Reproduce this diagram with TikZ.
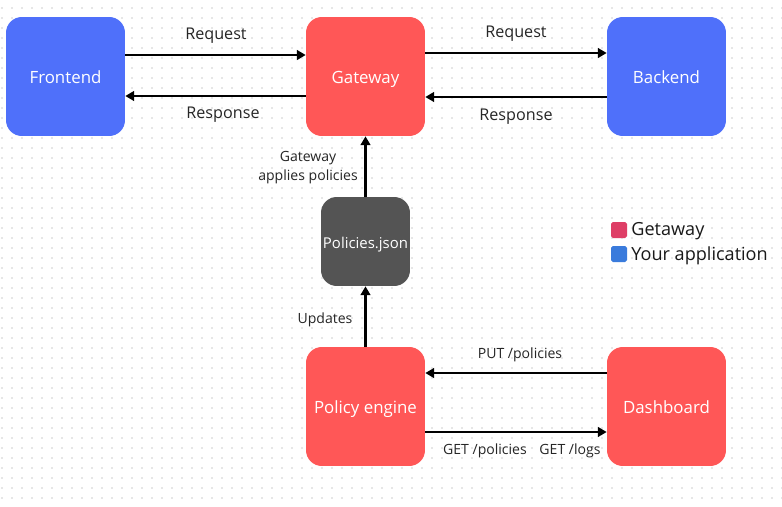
\documentclass[tikz,border=0pt]{standalone}
\usepackage{fontspec}
\setmainfont{Open Sans}
\usepackage{tikz}
\usetikzlibrary{arrows.meta, positioning, calc}
\definecolor{gateway}{HTML}{FF5757}
\definecolor{appblue}{HTML}{4F70FA}
\definecolor{store}  {HTML}{545454}
\definecolor{keyred} {HTML}{DE3E66}
\definecolor{keyblue}{HTML}{3A7BDC}
\definecolor{griddot}{HTML}{E6E6E6}

\begin{document}
\begin{tikzpicture}[
  x=0.02cm, y=-0.02cm,
  % all service boxes are the same square; the json store is a smaller one
  service/.style={
    rounded corners=9pt, minimum width=2.38cm, minimum height=2.38cm,
    text=white, font=\fontsize{9.6}{11}\selectfont, inner sep=0pt,
    text height=1.1em, text depth=0.25em
  },
  store/.style={service, fill=store, minimum width=1.78cm, minimum height=1.78cm,
                font=\fontsize{8.5}{10}\selectfont},
  flow/.style={-{Triangle[length=5pt,width=5.5pt]}, line width=1.6pt, black},
  edgelabel/.style={font=\fontsize{8}{10}\selectfont, text=black!85,
                    align=center, inner sep=1pt},
  bigedgelabel/.style={edgelabel, font=\fontsize{9.2}{11}\selectfont},
  keytext/.style={font=\fontsize{10.3}{12}\selectfont, text=black!90, anchor=west,
                  inner sep=0pt}
]

% --- canvas with the dotted grid ----------------------------------------------
\useasboundingbox (0,0) rectangle (782,507);
\fill[white] (0,0) rectangle (782,507);
\foreach \gx in {2,12,...,782}
  \foreach \gy in {8,18,...,507}
    \fill[griddot] (\gx-0.55,\gy-0.55) rectangle (\gx+0.55,\gy+0.55);

% --- the boxes ------------------------------------------------------------------
\node[service, fill=appblue] (fe)  at (65.5,76.5)   {Frontend};
\node[service, fill=gateway] (gw)  at (365.5,76.5)  {Gateway};
\node[service, fill=appblue] (be)  at (666.5,76.5)  {Backend};
\node[store]                 (pol) at (365.5,241.5) {Policies.json};
\node[service, fill=gateway] (eng) at (365.5,406.5) {Policy engine};
\node[service, fill=gateway] (dsh) at (666.5,406.5) {Dashboard};

% --- request / response pairs -----------------------------------------------------
\draw[flow] ([yshift=0.43cm]fe.east) -- ([yshift=0.43cm]gw.west);
\draw[flow] ([yshift=-0.39cm]gw.west) -- ([yshift=-0.39cm]fe.east);
\draw[flow] ([yshift=0.47cm]gw.east) -- ([yshift=0.47cm]be.west);
\draw[flow] ([yshift=-0.41cm]be.west) -- ([yshift=-0.41cm]gw.east);

% --- policy chain -------------------------------------------------------------------
\draw[flow] (pol) -- (gw);
\draw[flow] (eng) -- (pol);
\draw[flow] ([yshift=0.67cm]dsh.west) -- ([yshift=0.67cm]eng.east);
\draw[flow] ([yshift=-0.51cm]eng.east) -- ([yshift=-0.51cm]dsh.west);

% --- labels on the connectors ---------------------------------------------------------
\node[bigedgelabel] (l1) at (216,36)  {Request};
\node[bigedgelabel] (l2) at (223,115) {Response};
\node[bigedgelabel] (l3) at (516,34)  {Request};
\node[bigedgelabel] (l4) at (516,117) {Response};
\node[edgelabel] (l5) at (308,167.5) {Gateway\\[1pt]applies policies};
\node[edgelabel] (l6) at (325,320) {Updates};
\node[edgelabel] (l7) at (520,355) {PUT /policies};
\node[edgelabel] (l8) at (485,451) {GET /policies};
\node[edgelabel] (l9) at (570,451) {GET /logs};

% --- key ------------------------------------------------------------------------------
\fill[keyred, rounded corners=1pt]  (611,222) rectangle (627,238);
\fill[keyblue, rounded corners=1pt] (611,246) rectangle (627,262);
\node[keytext] (k1) at (631,231.5) {Getaway};
\node[keytext] (k2) at (631,255.5) {Your application};

\end{tikzpicture}
\end{document}
